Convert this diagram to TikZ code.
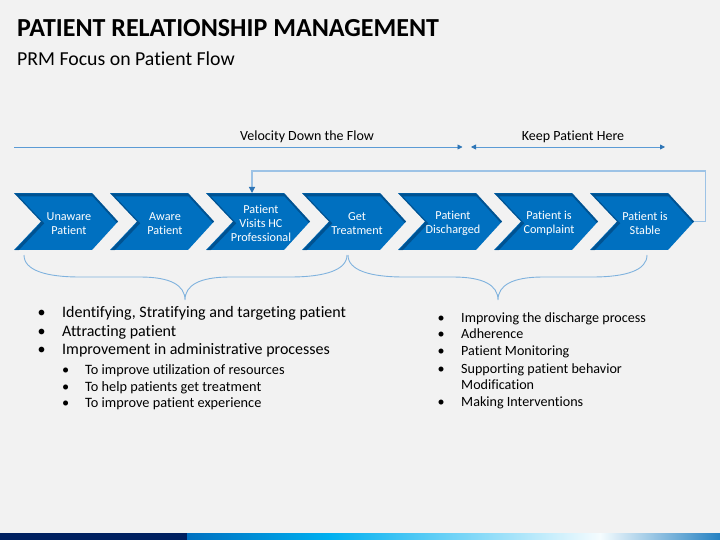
\documentclass[tikz,border=0pt]{standalone}
\usepackage{fontspec}
\setmainfont{Carlito}[Ligatures=NoCommon]
\usepackage{xcolor}
\usetikzlibrary{arrows.meta, calc, positioning}

\definecolor{slidebg}{HTML}{F2F2F2}
\definecolor{stageblue}{HTML}{0070C0}
\definecolor{stageshade}{HTML}{003F73}
\definecolor{flowblue}{HTML}{5B9BD5}
\definecolor{tipblue}{HTML}{2E75B6}
\definecolor{fbblue}{HTML}{9DC3E6}
\definecolor{bracecol}{HTML}{7FB2DE}
\definecolor{navy}{HTML}{002060}
\definecolor{skyblue}{HTML}{00B0F0}

% chevron outline, #1 = left edge
\newcommand{\stagepath}[1]{(#1,193) -- ++(78,0) -- ++(26,28.5) -- ++(-26,28.5) -- ++(-78,0) -- ++(27,-28.5) -- cycle}

\begin{document}
\begin{tikzpicture}[x=1pt, y=-1pt,
    stagetext/.style={text=white, align=center, font=\fontsize{12.2}{14}\selectfont},
    headtext/.style={anchor=base, font=\fontsize{14}{16}\selectfont},
    flowline/.style={flowblue, line width=0.8pt},
    flowtip/.tip={Triangle[length=5pt, width=5pt, color=tipblue]},
    fbline/.style={fbblue, line width=1.2pt},
    brace/.style={bracecol, line width=0.9pt},
    mainitem/.style={anchor=base west, inner sep=0pt, font=\fontsize{16}{18}\selectfont},
    subitem/.style={anchor=base west, inner sep=0pt, font=\fontsize{14.3}{16}\selectfont},
    rightitem/.style={anchor=base west, inner sep=0pt, font=\fontsize{14.1}{16}\selectfont}]
    \useasboundingbox (0,0) rectangle (720,540);
    \fill[slidebg] (0,0) rectangle (720,540);

    % title
    \node[anchor=base west, inner sep=0pt, font=\fontsize{26}{30}\selectfont\bfseries] (title) at (17,36.7) {PATIENT RELATIONSHIP MANAGEMENT};
    \node[anchor=base west, inner sep=0pt, font=\fontsize{19.8}{22}\selectfont] (subtitle) at (17,65.7) {PRM Focus on Patient Flow};

    % stages
    \foreach \lab [count=\i] in {{Unaware\\Patient}, {Aware\\Patient}, {Patient\\Visits HC\\Professional}, {Get\\Treatment}, {Patient\\Discharged}, {Patient is\\Complaint}, {Patient is\\Stable}} {
        \pgfmathsetmacro{\xl}{14+96*(\i-1)}
        \begin{scope}
            \clip \stagepath{\xl};
            \fill[stageblue] (\xl,193) rectangle ++(104,57);
            \draw[stageshade, line width=3pt, opacity=0.6, shift={(1.2,1.8)}] \stagepath{\xl};
        \end{scope}
        \node[stagetext] (st\i) at (\xl+55,223.5) {\lab};
        \coordinate (tip\i) at (\xl+104,221.5);
        \coordinate (top\i) at (\xl+46,193);
    }

    % feedback loop
    \coordinate (fbcorner) at (705.5,171);
    \draw[fbline, -{Triangle[length=6pt, width=6pt, color=tipblue]}] (tip7) -| (fbcorner) -| (top3);

    % flow arrows
    \node[headtext] (vel) at (307,140.7) {Velocity Down the Flow};
    \node[headtext] (keep) at (573,140.7) {Keep Patient Here};
    \coordinate (velstart) at (14,147);
    \coordinate (velend) at (462.5,147);
    \coordinate (keepstart) at (471,147);
    \coordinate (keepend) at (665,147);
    \draw[flowline, -flowtip] (velstart) -- (velend);
    \draw[flowline, flowtip-flowtip] (keepstart) -- (keepend);

    % braces
    \draw[brace] (24,255) .. controls (24,270) and (45,277) .. (80,277) -- (140,277)
        .. controls (170,277) and (185,285) .. (185,300)
        .. controls (185,285) and (200,277) .. (230,277) -- (290,277)
        .. controls (325,277) and (347,270) .. (347,255);
    \draw[brace] (348,255) .. controls (348,270) and (369,277) .. (404,277) -- (453,277)
        .. controls (483,277) and (498,285) .. (498,300)
        .. controls (498,285) and (513,277) .. (543,277) -- (592,277)
        .. controls (627,277) and (647,270) .. (647,255);

    % left list
    \foreach \txt [count=\j] in {{Identifying, Stratifying and targeting patient}, {Attracting patient}, {Improvement in administrative processes}} {
        \node[mainitem] (lb\j) at (37.5,317.7+18.3*\j-18.3) {\textbullet};
        \node[mainitem] (lm\j) at (62,317.7+18.3*\j-18.3) {\txt};
    }
    \foreach \txt [count=\j] in {{To improve utilization of resources}, {To help patients get treatment}, {To improve patient experience}} {
        \node[subitem] (sb\j) at (62,374.3+16.7*\j-16.7) {\textbullet};
        \node[subitem] (ls\j) at (85,374.3+16.7*\j-16.7) {\txt};
    }

    % right list
    \foreach \yy/\txt [count=\j] in {322.7/Improving the discharge process, 338.3/Adherence, 355.7/Patient Monitoring, 373.3/Supporting patient behavior, 406/Making Interventions} {
        \node[rightitem] (rb\j) at (437.5,\yy) {\textbullet};
        \node[rightitem] (ri\j) at (461,\yy) {\txt};
    }
    \node[rightitem] (rimod) at (461,389.3) {Modification};

    % bottom strip
    \fill[navy] (0,533) rectangle (187,540);
    \shade[left color=stageblue, right color=skyblue] (187,533) rectangle (330,540);
    \shade[left color=skyblue, right color=white!96!skyblue] (330,533) rectangle (600,540);
    \shade[left color=white!96!skyblue, right color=tipblue!80!skyblue] (600,533) rectangle (720,540);
\end{tikzpicture}
\end{document}
